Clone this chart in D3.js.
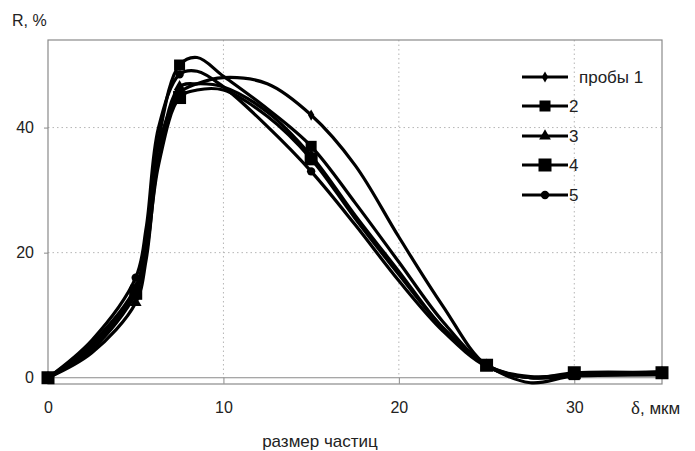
<!DOCTYPE html>
<html>
<head>
<meta charset="utf-8">
<script src="https://cdnjs.cloudflare.com/ajax/libs/d3/7.8.5/d3.min.js"></script>
<style>
  body { margin: 0; background: #fff; }
  svg text { font-family: "Liberation Sans", Arial, sans-serif; fill: #222; }
</style>
</head>
<body>
<div id="chart"></div>
<script>
// particle size, mkm
var xs = [0, 2.5, 5, 5.6, 6.3, 7.5, 8.5, 10, 12.5, 15, 17.5, 20, 22.5, 25, 27.5, 30, 35];
// x positions that carry a marker
var markerX = [0, 5, 7.5, 15, 25, 30, 35];

var s1 = [0, 5.5, 14.5, 22, 37, 45.5, 47, 48, 47, 42, 34, 22.5, 11.5, 2, 0, 0.5, 1];
var s2 = [0, 5, 14, 21, 38, 50, 51.2, 48.2, 43, 37, 28, 18.5, 9, 2, 0.2, 0.5, 0.8];
var s3 = [0, 4, 12, 19, 35, 46.5, 47, 46.5, 42.5, 35.5, 26, 17, 8, 2, -0.8, 0.3, 0.5];
var s4 = [0, 4.5, 13.5, 20, 34, 44.8, 46, 46, 41.8, 35, 25.5, 16.5, 8, 2, 0, 0.8, 0.8];
var s5 = [0, 6, 16, 24, 40, 48.5, 49, 46.5, 40.2, 33, 24.5, 15.5, 7.5, 1.8, 0, 0.3, 0.5];

var seriesNames = ["пробы 1", "2", "3", "4", "5"];
var seriesMarks = ["diamond", "square", "triangle", "bigsquare", "circle"];
var xTicks = [0, 10, 20, 30];
var yTicks = [0, 20, 40];

var series = [s1, s2, s3, s4, s5].map(function(v, i) {
  return { name: seriesNames[i], mark: seriesMarks[i],
           pts: xs.map(function(x, j) { return { x: x, y: v[j] }; }) };
});

var W = 695, H = 451;
var svg = d3.select("#chart").append("svg")
    .attr("width", W).attr("height", H);

var x = d3.scaleLinear().domain([0, 35]).range([48, 662]);
var y = d3.scaleLinear().domain([-1, 54]).range([384, 40]);

var grey = "#8a8a8a";

// dotted gridlines
svg.selectAll(".hgrid").data(yTicks.filter(function(d) { return d > 0; }))
  .enter().append("line")
  .attr("x1", x(0)).attr("x2", x(35))
  .attr("y1", function(d) { return y(d); }).attr("y2", function(d) { return y(d); })
  .attr("stroke", "#b5b5b5").attr("stroke-dasharray", "1.5,3");

svg.selectAll(".vgrid").data(xTicks.filter(function(d) { return d > 0; }))
  .enter().append("line")
  .attr("y1", y(54)).attr("y2", y(0))
  .attr("x1", function(d) { return x(d); }).attr("x2", function(d) { return x(d); })
  .attr("stroke", "#b5b5b5").attr("stroke-dasharray", "1.5,3");

// plot frame
svg.append("rect")
  .attr("x", x(0)).attr("y", y(54))
  .attr("width", x(35) - x(0)).attr("height", y(-1) - y(54))
  .attr("fill", "none").attr("stroke", grey).attr("stroke-width", 1.2);

// zero line with x ticks
svg.append("line")
  .attr("x1", x(0)).attr("x2", x(35)).attr("y1", y(0)).attr("y2", y(0))
  .attr("stroke", grey).attr("stroke-width", 1.2);

var xAxis = d3.axisBottom(x).tickValues(xTicks).tickSize(6).tickPadding(18);
var gx = svg.append("g").attr("transform", "translate(0," + y(0) + ")").call(xAxis);
gx.select(".domain").remove();
gx.selectAll(".tick line").attr("stroke", grey);
gx.selectAll(".tick text").style("font-size", "16px").attr("fill", "#222");

var yAxis = d3.axisLeft(y).tickValues(yTicks).tickSize(4).tickPadding(10);
var gy = svg.append("g").attr("transform", "translate(" + x(0) + ",0)").call(yAxis);
gy.select(".domain").remove();
gy.selectAll(".tick line").attr("stroke", grey);
gy.selectAll(".tick text").style("font-size", "16px").attr("fill", "#222");

// axis titles
svg.append("text").attr("x", 12).attr("y", 26).style("font-size", "16px").text("R, %");
var dt = svg.append("text").attr("x", 631).attr("y", 414).style("font-size", "17px");
dt.append("tspan").style("font-family", "'Liberation Serif', 'Times New Roman', serif")
  .style("font-size", "19px").text("δ");
dt.append("tspan").text(", мкм");
svg.append("text").attr("x", 320).attr("y", 447).attr("text-anchor", "middle")
  .style("font-size", "17px").text("размер частиц");

// markers
function drawMark(g, kind, cx, cy) {
  if (kind === "diamond") {
    g.append("path").attr("d", d3.symbol(d3.symbolDiamond, 36)())
      .attr("transform", "translate(" + cx + "," + cy + ")").attr("fill", "#000");
  } else if (kind === "square") {
    g.append("rect").attr("x", cx - 5.5).attr("y", cy - 5.5)
      .attr("width", 11).attr("height", 11).attr("fill", "#000");
  } else if (kind === "bigsquare") {
    g.append("rect").attr("x", cx - 6.5).attr("y", cy - 6.5)
      .attr("width", 13).attr("height", 13).attr("fill", "#000");
  } else if (kind === "triangle") {
    g.append("path").attr("d", d3.symbol(d3.symbolTriangle, 60)())
      .attr("transform", "translate(" + cx + "," + cy + ")").attr("fill", "#000");
  } else {
    g.append("circle").attr("cx", cx).attr("cy", cy).attr("r", 4.2).attr("fill", "#000");
  }
}

var line = d3.line()
  .x(function(d) { return x(d.x); })
  .y(function(d) { return y(d.y); })
  .curve(d3.curveCatmullRom.alpha(0.5));

var gs = svg.append("g");
series.forEach(function(s) {
  gs.append("path").datum(s.pts).attr("d", line)
    .attr("fill", "none").attr("stroke", "#000").attr("stroke-width", 3.2)
    .attr("stroke-linejoin", "round");
});
series.forEach(function(s) {
  var g = gs.append("g");
  s.pts.filter(function(p) { return markerX.indexOf(p.x) >= 0; }).forEach(function(p) {
    drawMark(g, s.mark, x(p.x), y(p.y));
  });
});

// legend
var legY = [77, 106, 136, 165, 195];
var leg = svg.append("g");
series.forEach(function(s, i) {
  leg.append("line").attr("x1", 522).attr("x2", 568)
    .attr("y1", legY[i]).attr("y2", legY[i])
    .attr("stroke", "#000").attr("stroke-width", 3.2);
  drawMark(leg, s.mark, 545, legY[i]);
  leg.append("text").attr("x", i === 0 ? 579 : 569).attr("y", legY[i] + 6)
    .style("font-size", "17px").text(s.name);
});
</script>
</body>
</html>
